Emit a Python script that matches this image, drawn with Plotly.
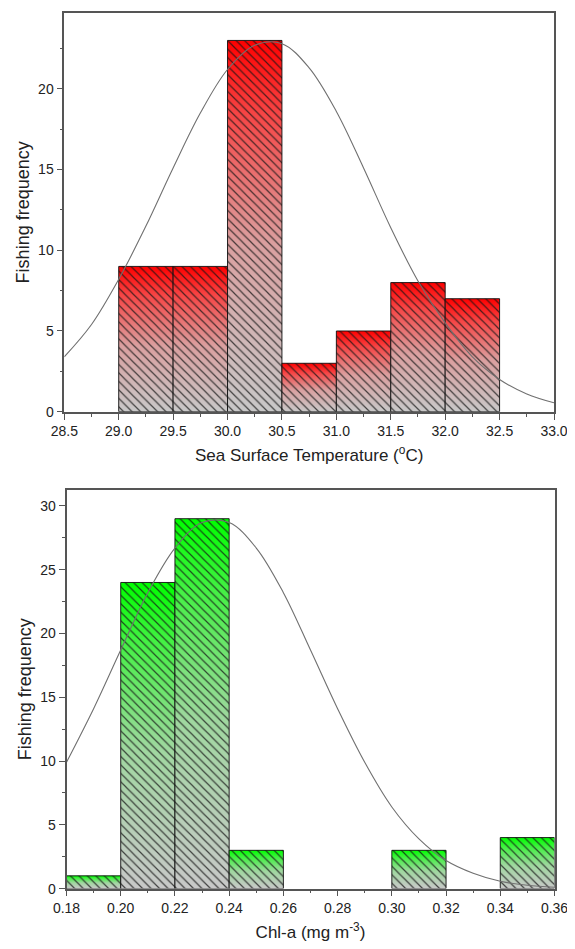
import plotly.graph_objects as go

# ---------------- data ----------------
sst_edges = [29.0, 29.5, 30.0, 30.5, 31.0, 31.5, 32.0, 32.5]
sst_counts = [9, 9, 23, 3, 5, 8, 7]
sst_curve_x = [28.5, 28.75, 29.0, 29.25, 29.5, 29.75, 30.0, 30.25, 30.5, 30.75,
               31.0, 31.25, 31.5, 31.75, 32.0, 32.25, 32.5, 32.75, 33.0]
sst_curve_y = [3.4, 5.4, 8.2, 11.5, 15.1, 18.5, 21.2, 22.7, 22.8, 21.3,
               18.6, 15.1, 11.4, 8.1, 5.5, 3.4, 2.0, 1.1, 0.55]
sst_ticks = [28.5, 29.0, 29.5, 30.0, 30.5, 31.0, 31.5, 32.0, 32.5, 33.0]

chl_edges = [0.18, 0.20, 0.22, 0.24, 0.26, 0.28, 0.30, 0.32, 0.34, 0.36]
chl_counts = [1, 24, 29, 3, 0, 0, 3, 0, 4]
chl_curve_x = [0.18, 0.19, 0.20, 0.21, 0.22, 0.23, 0.24, 0.25, 0.26, 0.27,
               0.28, 0.29, 0.30, 0.31, 0.32, 0.33, 0.34, 0.35, 0.36]
chl_curve_y = [9.9, 14.1, 18.7, 23.2, 26.7, 28.7, 28.7, 26.7, 23.2, 18.7,
               14.1, 9.9, 6.4, 3.9, 2.2, 1.2, 0.57, 0.26, 0.11]
chl_ticks = [0.18, 0.20, 0.22, 0.24, 0.26, 0.28, 0.30, 0.32, 0.34, 0.36]

# ---------------- style ----------------
FONT = "Arial, Liberation Sans, sans-serif"
AXC = "#555555"
RED_SCALE = [[0, "rgb(200,200,200)"], [0.45, "rgb(218,160,160)"],
             [0.8, "rgb(246,70,70)"], [1, "rgb(255,0,0)"]]
GREEN_SCALE = [[0, "rgb(200,200,200)"], [0.45, "rgb(160,215,160)"],
               [0.8, "rgb(70,240,70)"], [1, "rgb(0,255,0)"]]

# page body has an 8 px margin, so the figure is sized to fit the window
W, H, OFF = 567, 941, 8


def xdom(a, b):
    return [(a - OFF) / W, (b - OFF) / W]


def ydom(top, bottom):
    return [1 - (bottom - OFF) / H, 1 - (top - OFF) / H]


fig = go.Figure()


def add_hist(edges, counts, scale, xa, ya):
    for i, c in enumerate(counts):
        if c <= 0:
            continue
        x0, x1 = edges[i], edges[i + 1]
        px = [x0, x0, x1, x1, x0]
        py = [0, c, c, 0, 0]
        # gradient body of the bar
        fig.add_trace(go.Scatter(
            x=px, y=py, mode="lines", line=dict(width=0), fill="toself",
            fillgradient=dict(type="vertical", colorscale=scale),
            hoverinfo="skip", showlegend=False, xaxis=xa, yaxis=ya))
        # hatch and outline on top
        fig.add_trace(go.Scatter(
            x=px, y=py, mode="lines",
            line=dict(color="rgba(15,15,15,0.9)", width=1),
            fill="toself", fillcolor="rgba(0,0,0,0)",
            fillpattern=dict(shape="\\", size=6, solidity=0.2,
                             fgcolor="rgba(20,20,20,0.75)",
                             bgcolor="rgba(0,0,0,0)", fillmode="replace"),
            hoverinfo="skip", showlegend=False, xaxis=xa, yaxis=ya))


def add_curve(cx, cy, xa, ya):
    fig.add_trace(go.Scatter(
        x=cx, y=cy, mode="lines",
        line=dict(color="#707070", width=1.1, shape="spline"),
        showlegend=False, hoverinfo="skip", xaxis=xa, yaxis=ya))


add_hist(sst_edges, sst_counts, RED_SCALE, "x", "y")
add_curve(sst_curve_x, sst_curve_y, "x", "y")
add_hist(chl_edges, chl_counts, GREEN_SCALE, "x2", "y2")
add_curve(chl_curve_x, chl_curve_y, "x2", "y2")


def axis(**kw):
    d = dict(showline=True, linecolor=AXC, linewidth=1.6, mirror=True,
             ticks="outside", ticklen=6, tickwidth=1.2, tickcolor=AXC,
             showgrid=False, zeroline=False, automargin=False,
             tickfont=dict(size=14, color="#222", family=FONT))
    d.update(kw)
    return d


XT = dict(size=17, color="#222", family=FONT)
YT = dict(size=18, color="#222", family=FONT)

fig.update_layout(
    template="none",
    width=W, height=H,
    margin=dict(l=0, r=0, t=0, b=0),
    paper_bgcolor="white", plot_bgcolor="white",
    font=dict(family=FONT, color="#222"),
    showlegend=False,
    xaxis=axis(domain=xdom(64.3, 554), anchor="y", range=[28.5, 33.0],
               tickvals=sst_ticks, tickformat=".1f",
               minor=dict(ticks="outside", ticklen=3, tickcolor=AXC, dtick=0.25, tick0=28.5),
               title=dict(text="Sea Surface Temperature (<sup>o</sup>C)",
                          font=XT, standoff=11)),
    yaxis=axis(domain=ydom(13, 411.7), anchor="x", range=[0, 24.7],
               dtick=5, tick0=0,
               minor=dict(ticks="outside", ticklen=3, tickcolor=AXC, dtick=2.5, tick0=0),
               title=dict(text="Fishing frequency", font=YT, standoff=4)),
    xaxis2=axis(domain=xdom(66.5, 554.5), anchor="y2", range=[0.18, 0.36],
                tickvals=chl_ticks, tickformat=".2f",
                minor=dict(ticks="outside", ticklen=3, tickcolor=AXC, dtick=0.01, tick0=0.18),
                title=dict(text="Chl-a (mg m<sup>-3</sup>)", font=XT, standoff=11)),
    yaxis2=axis(domain=ydom(490, 888.6), anchor="x2", range=[0, 31.25],
                dtick=5, tick0=0,
                minor=dict(ticks="outside", ticklen=3, tickcolor=AXC, dtick=2.5, tick0=0),
                title=dict(text="Fishing frequency", font=YT, standoff=4)),
)

fig.write_html("out.html")
